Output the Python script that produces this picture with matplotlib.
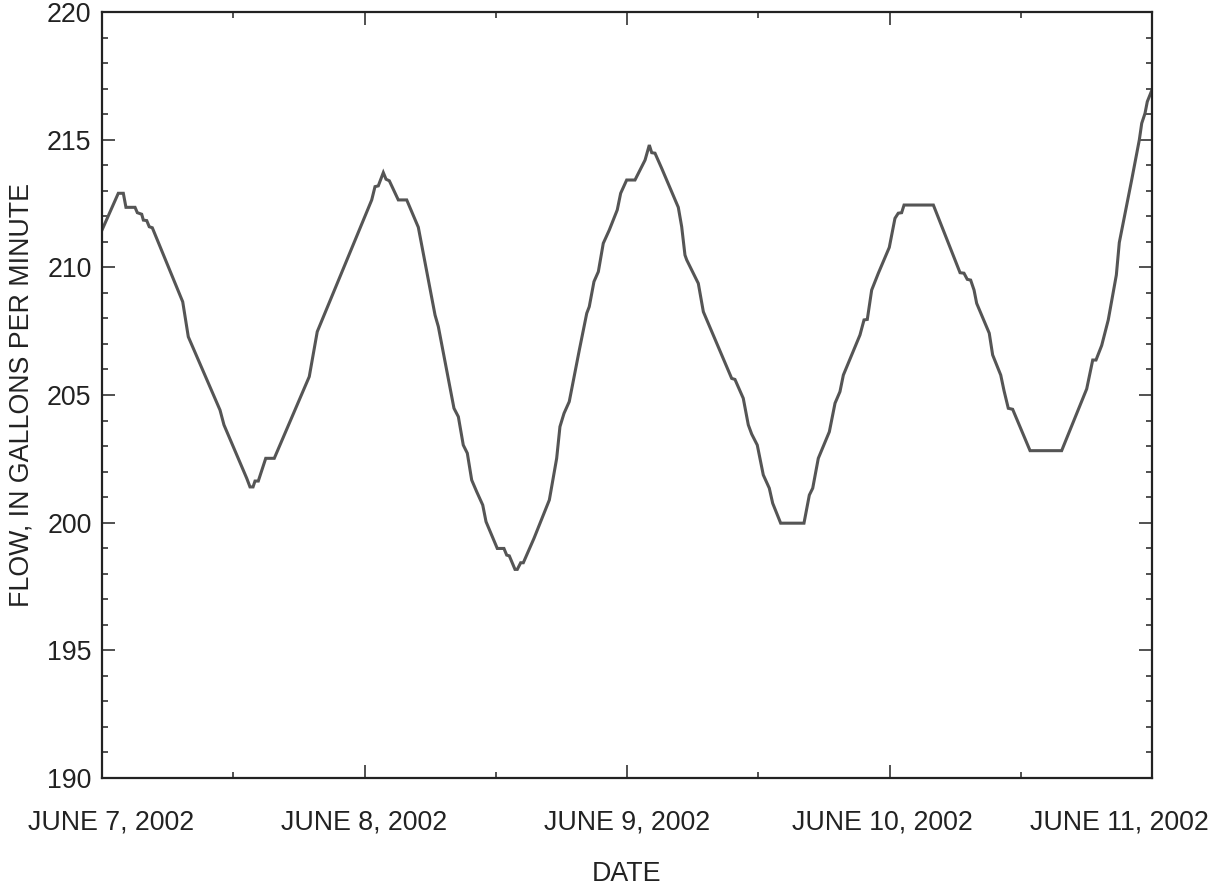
import numpy as np
import pandas as pd
import matplotlib
matplotlib.use("Agg")
import matplotlib.pyplot as plt
import matplotlib.dates as mdates
from matplotlib.ticker import MultipleLocator
from matplotlib.transforms import ScaledTranslation

plt.rcParams["font.family"] = ["Liberation Sans", "DejaVu Sans"]

# heures depuis le 7 juin 2002 00:00, et debit (gal/min)
hours = [
    0.00, 1.49, 1.95, 2.19, 3.02, 3.23, 3.63, 3.78, 4.09, 4.32, 4.60, 7.38, 7.89,
    10.79, 11.15, 13.23, 13.53, 13.81, 13.99, 14.29, 14.97, 15.75, 18.95, 19.68,
    24.66, 24.96, 25.26, 25.72, 25.97, 26.27, 27.09, 27.86, 28.92, 30.45, 30.75,
    32.18, 32.58, 33.03, 33.40, 33.80, 34.26, 34.81, 35.11, 36.14, 36.75, 37.00,
    37.24, 37.76, 37.97, 38.28, 38.52, 39.50, 40.35, 40.90, 41.57, 41.87, 42.24,
    42.72, 43.64, 44.32, 44.55, 44.98, 45.38, 45.83, 46.38, 47.11, 47.42, 47.97,
    48.73, 49.65, 50.04, 50.26, 50.56, 51.17, 52.69, 53.00, 53.30, 53.46, 54.52,
    54.98, 57.57, 57.87, 58.63, 59.09, 59.40, 59.91, 60.46, 61.01, 61.32, 62.05,
    64.18, 64.67, 64.98, 65.49, 66.50, 67.02, 67.47, 67.78, 69.30, 69.67, 69.97,
    70.37, 70.98, 71.98, 72.50, 72.80, 73.11, 73.33, 76.01, 78.45, 78.81, 79.11,
    79.42, 79.73, 79.97, 81.12, 81.43, 82.17, 82.47, 82.86, 83.26, 84.85, 87.74,
    90.03, 90.58, 90.88, 91.40, 92.00, 92.74, 93.01, 94.14, 94.84, 95.06, 95.36,
    95.57, 96.00,
]
flow = [
    211.46, 212.90, 212.90, 212.35, 212.35, 212.14, 212.08, 211.85, 211.83, 211.59,
    211.55, 208.65, 207.28, 204.41, 203.83, 201.74, 201.40, 201.40, 201.63, 201.63,
    202.52, 202.52, 205.72, 207.48, 212.64, 213.16, 213.19, 213.71, 213.45, 213.39,
    212.64, 212.64, 211.57, 208.13, 207.68, 204.48, 204.15, 203.04, 202.72, 201.67,
    201.21, 200.69, 200.04, 198.99, 198.99, 198.73, 198.70, 198.17, 198.17, 198.43,
    198.43, 199.39, 200.30, 200.89, 202.52, 203.76, 204.28, 204.74, 206.76, 208.20,
    208.46, 209.44, 209.83, 210.94, 211.46, 212.25, 212.90, 213.42, 213.42, 214.20,
    214.79, 214.49, 214.47, 213.88, 212.35, 211.59, 210.48, 210.29, 209.37, 208.26,
    205.65, 205.61, 204.87, 203.83, 203.47, 203.04, 201.87, 201.35, 200.76, 199.98,
    199.98, 201.08, 201.35, 202.52, 203.56, 204.68, 205.13, 205.78, 207.35, 207.94,
    207.96, 209.11, 209.77, 210.78, 211.92, 212.12, 212.14, 212.44, 212.44, 209.79,
    209.77, 209.53, 209.50, 209.11, 208.59, 207.42, 206.57, 205.78, 205.17, 204.48,
    204.44, 202.82, 202.82, 205.24, 206.37, 206.37, 206.94, 207.94, 209.70, 210.97,
    213.42, 214.99, 215.64, 216.03, 216.49, 216.95,
]
day_labels = ["JUNE 7, 2002", "JUNE 8, 2002", "JUNE 9, 2002",
              "JUNE 10, 2002", "JUNE 11, 2002"]

start = pd.Timestamp("2002-06-07")
t = start + pd.to_timedelta(hours, unit="h")
days = pd.date_range("2002-06-07", "2002-06-11", freq="D")

fig = plt.figure(figsize=(12.25, 8.88), dpi=100)
ax = fig.add_axes([102 / 1225, 1 - 778 / 888, 1050 / 1225, 766 / 888])

ax.plot(t, flow, color="#555555", lw=2.2, solid_joinstyle="miter")

ax.set_xlim(days[0], days[-1])
ax.set_ylim(190, 220)

ax.set_xticks(days)
ax.set_xticklabels(day_labels)
ax.xaxis.set_minor_locator(mdates.HourLocator(byhour=[12]))
ax.yaxis.set_major_locator(MultipleLocator(5))
ax.yaxis.set_minor_locator(MultipleLocator(1))

fs = 19.3
ax.tick_params(which="both", direction="in", top=True, right=True,
               width=1.1, color="#222222", labelsize=fs, labelcolor="#222222")
ax.tick_params(which="major", length=9.5)
ax.tick_params(which="minor", length=4.5)
ax.tick_params(axis="x", which="major", pad=23)
ax.tick_params(axis="y", which="major", pad=7.5)

# decaler un peu les etiquettes des extremites
offsets = [9, 0, 0, -7, -33]
for lab, dx in zip(ax.get_xticklabels(), offsets):
    lab.set_transform(lab.get_transform() + ScaledTranslation(dx / 100, 0, fig.dpi_scale_trans))

for sp in ax.spines.values():
    sp.set_linewidth(1.6)
    sp.set_color("#222222")

ax.set_xlabel("DATE", fontsize=fs, color="#222222", labelpad=18)
ax.set_ylabel("FLOW, IN GALLONS PER MINUTE", fontsize=fs, color="#222222", labelpad=9)

fig.savefig("out.png", dpi=100)
